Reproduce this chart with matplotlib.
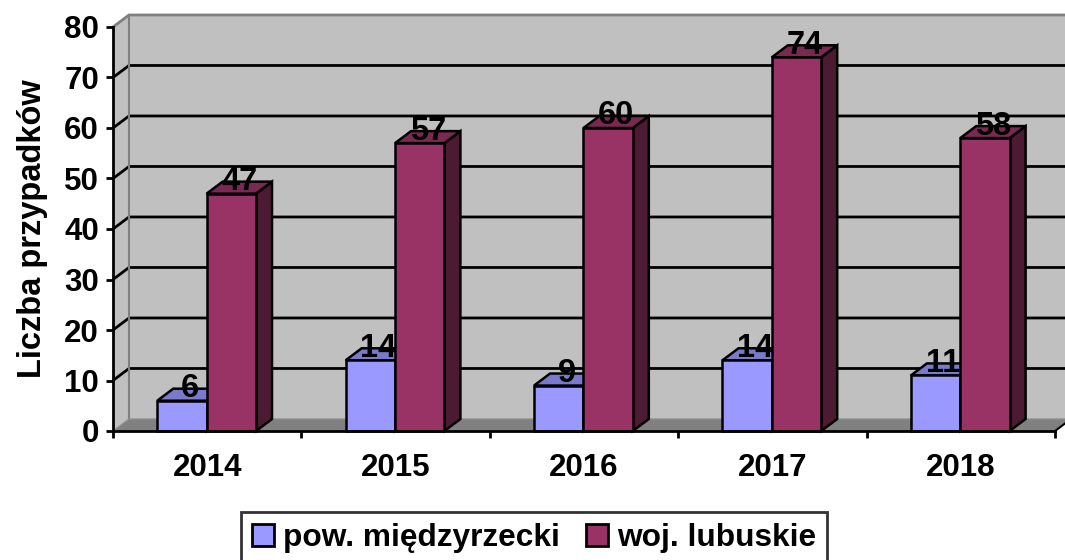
import matplotlib.pyplot as plt
import numpy as np
from matplotlib.patches import Polygon, Patch

years = ["2014", "2015", "2016", "2017", "2018"]
powiat = [6, 14, 9, 14, 11]
lubuskie = [47, 57, 60, 74, 58]
series_names = ["pow. międzyrzecki", "woj. lubuskie"]

plt.rcParams['font.family'] = ['Liberation Sans', 'DejaVu Sans']
plt.rcParams['font.weight'] = 'bold'

fig = plt.figure(figsize=(10.65, 5.6), dpi=100)
ax = fig.add_axes([113 / 1065, 129 / 560, 942 / 1065, 404 / 560])
ax.set_xlim(0, len(years))
ax.set_ylim(0, 80)
ax.patch.set_visible(False)

# fake 3D depth in data units
dx, dy = 0.085, 2.38
n = len(years)
ymax = 80

wall = '#C0C0C0'
floor = '#808080'

# back wall, side wall, floor
ax.add_patch(Polygon([(dx, dy), (n + dx, dy), (n + dx, ymax + dy), (dx, ymax + dy)],
                     closed=True, fc=wall, ec='none', zorder=0, clip_on=False))
ax.add_patch(Polygon([(0, 0), (dx, dy), (dx, ymax + dy), (0, ymax)],
                     closed=True, fc=wall, ec='none', zorder=0, clip_on=False))
ax.add_patch(Polygon([(0, 0), (n, 0), (n + dx, dy), (dx, dy)],
                     closed=True, fc=floor, ec='none', zorder=0.5, clip_on=False))

# gridlines on side + back wall
for v in range(10, 80, 10):
    ax.plot([0, dx, n + dx], [v, v + dy, v + dy], color='black', lw=2,
            zorder=1, clip_on=False, solid_capstyle='butt')
ax.plot([0, dx, n + dx], [ymax, ymax + dy, ymax + dy], color='#808080', lw=2,
        zorder=1, clip_on=False)
ax.plot([dx, dx], [dy, ymax + dy], color='#808080', lw=1.5, zorder=1, clip_on=False)
ax.plot([0, dx, n + dx], [0, dy, dy], color='#909090', lw=1, zorder=1, clip_on=False)
ax.plot([n, n + dx], [0, dy], color='black', lw=1.5, zorder=1, clip_on=False)


def shade(c, f):
    c = np.array(plt.matplotlib.colors.to_rgb(c))
    return tuple(c * f)


def bar3d(x0, w, h, color, z):
    kw = dict(closed=True, ec='black', lw=1.8, zorder=z, clip_on=False, joinstyle='miter')
    ax.add_patch(Polygon([(x0 + w, 0), (x0 + w + dx, dy), (x0 + w + dx, h + dy), (x0 + w, h)],
                         fc=shade(color, 0.5), **kw))
    ax.add_patch(Polygon([(x0, h), (x0 + w, h), (x0 + w + dx, h + dy), (x0 + dx, h + dy)],
                         fc=shade(color, 0.8), **kw))
    ax.add_patch(Polygon([(x0, 0), (x0 + w, 0), (x0 + w, h), (x0, h)],
                         fc=color, **kw))


colors = ['#9999FF', '#993366']
w = 0.262
start = 0.235
label_size = 23.5
for s, (vals, col) in enumerate([(powiat, colors[0]), (lubuskie, colors[1])]):
    for i, v in enumerate(vals):
        x0 = i + start + s * w
        bar3d(x0, w, v, col, 2 + 2 * s)
        ax.text(x0 + w / 2 + dx / 2, v + dy, str(v), ha='center', va='center',
                fontsize=label_size, fontweight='bold', zorder=3 + 2 * s)

# axes
for side in ['top', 'right']:
    ax.spines[side].set_visible(False)
for side in ['left', 'bottom']:
    ax.spines[side].set_linewidth(2)
    ax.spines[side].set_zorder(10)

ax.set_yticks(range(0, 81, 10))
ax.tick_params(axis='y', direction='out', length=5, width=2, labelsize=22.5, pad=5)
ax.set_xticks(range(0, n + 1))
ax.set_xticklabels([])
ax.tick_params(axis='x', which='major', direction='out', length=5, width=2)
ax.set_xticks(np.arange(n) + 0.5, minor=True)
ax.set_xticklabels(years, minor=True)
ax.tick_params(axis='x', which='minor', length=0, labelsize=22.5, pad=16)

ax.set_ylabel('Liczba przypadków', fontsize=23.5, fontweight='bold', labelpad=12)

handles = [Patch(fc=colors[0], ec='black', lw=2), Patch(fc=colors[1], ec='black', lw=2)]
leg = fig.legend(handles, series_names, loc='upper center', bbox_to_anchor=(534 / 1065, 48 / 560),
                 ncol=2, fontsize=22.8, frameon=True, fancybox=False, edgecolor='black',
                 handlelength=0.7, handleheight=0.7, handletextpad=0.3, columnspacing=0.8,
                 borderpad=0.35, borderaxespad=0)
leg.get_frame().set_linewidth(2)

plt.savefig('out.png', dpi=100)
